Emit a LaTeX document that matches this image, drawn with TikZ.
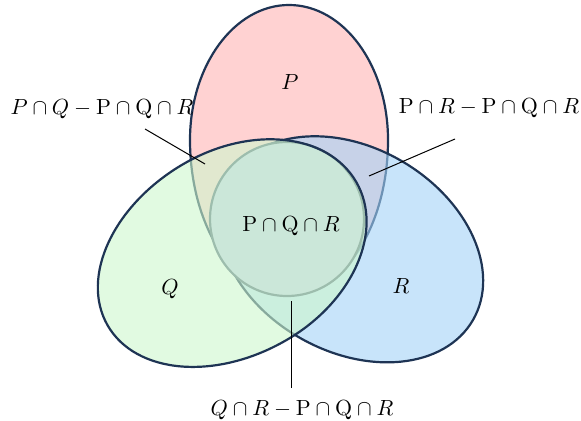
\documentclass[tikz,border=0pt]{standalone}
\usepackage{amsmath,amssymb}
\usepackage{tikz}
\definecolor{navy}{RGB}{30,52,84}
\definecolor{pfill}{RGB}{255,210,210}
\definecolor{qfill}{RGB}{205,247,205}
\definecolor{rfill}{RGB}{163,210,247}
\definecolor{cfill}{RGB}{200,209,236}
% egg outline: broad end #1, narrow end #2 (on local +x), half width #3
\newcommand{\eggpath}[3]{(0,-#3) arc[start angle=-90, end angle=90, x radius=#2, y radius=#3]
  arc[start angle=90, end angle=270, x radius=#1, y radius=#3] -- cycle}

\begin{document}
\begin{tikzpicture}[x=0.5pt, y=-0.5pt, font=\fontsize{11}{13}\selectfont,
    outline/.style={draw=navy, line width=1.1pt},
    leader/.style={draw=black, line width=0.5pt}]
    \useasboundingbox (0,0) rectangle (581,421);
    % the three sets
    \filldraw[outline, fill=pfill, shift={(289,140)}, rotate=-90] \eggpath{135}{155}{99};
    \filldraw[outline, fill=rfill, fill opacity=0.6, shift={(350,249)}, rotate=150] \eggpath{142}{140}{102};
    \filldraw[outline, draw=navy!75, fill=cfill] (287,219) circle[radius=77];
    \filldraw[outline, fill=qfill, fill opacity=0.6, shift={(235,252)}, rotate=30] \eggpath{147}{140}{102};
    % set names
    \node[anchor=base] (lblP) at (290,90) {$P$};
    \node[anchor=base] (lblQ) at (170,294) {$Q$};
    \node[anchor=base] (lblR) at (401,293) {$R$};
    \node[anchor=base] (lblPQR) at (291,232) {$\mathrm{P}\cap\mathrm{Q}\cap R$};
    % region labels with leaders
    \node[anchor=base] (lblPQ) at (102,115) {$P\cap Q-\mathrm{P}\cap\mathrm{Q}\cap R$};
    \node[anchor=base] (lblPR) at (489,114) {$\mathrm{P}\cap R-\mathrm{P}\cap\mathrm{Q}\cap R$};
    \node[anchor=base] (lblQR) at (302,415) {$Q\cap R-\mathrm{P}\cap\mathrm{Q}\cap R$};
    \coordinate (pq-a) at (145,129);
    \coordinate (pq-b) at (205,164);
    \coordinate (pr-a) at (455,139);
    \coordinate (pr-b) at (369,176);
    \coordinate (qr-a) at (291,388);
    \coordinate (qr-b) at (291,301);
    \draw[leader] (pq-a) -- (pq-b);
    \draw[leader] (pr-a) -- (pr-b);
    \draw[leader] (qr-a) -- (qr-b);
\end{tikzpicture}
\end{document}
